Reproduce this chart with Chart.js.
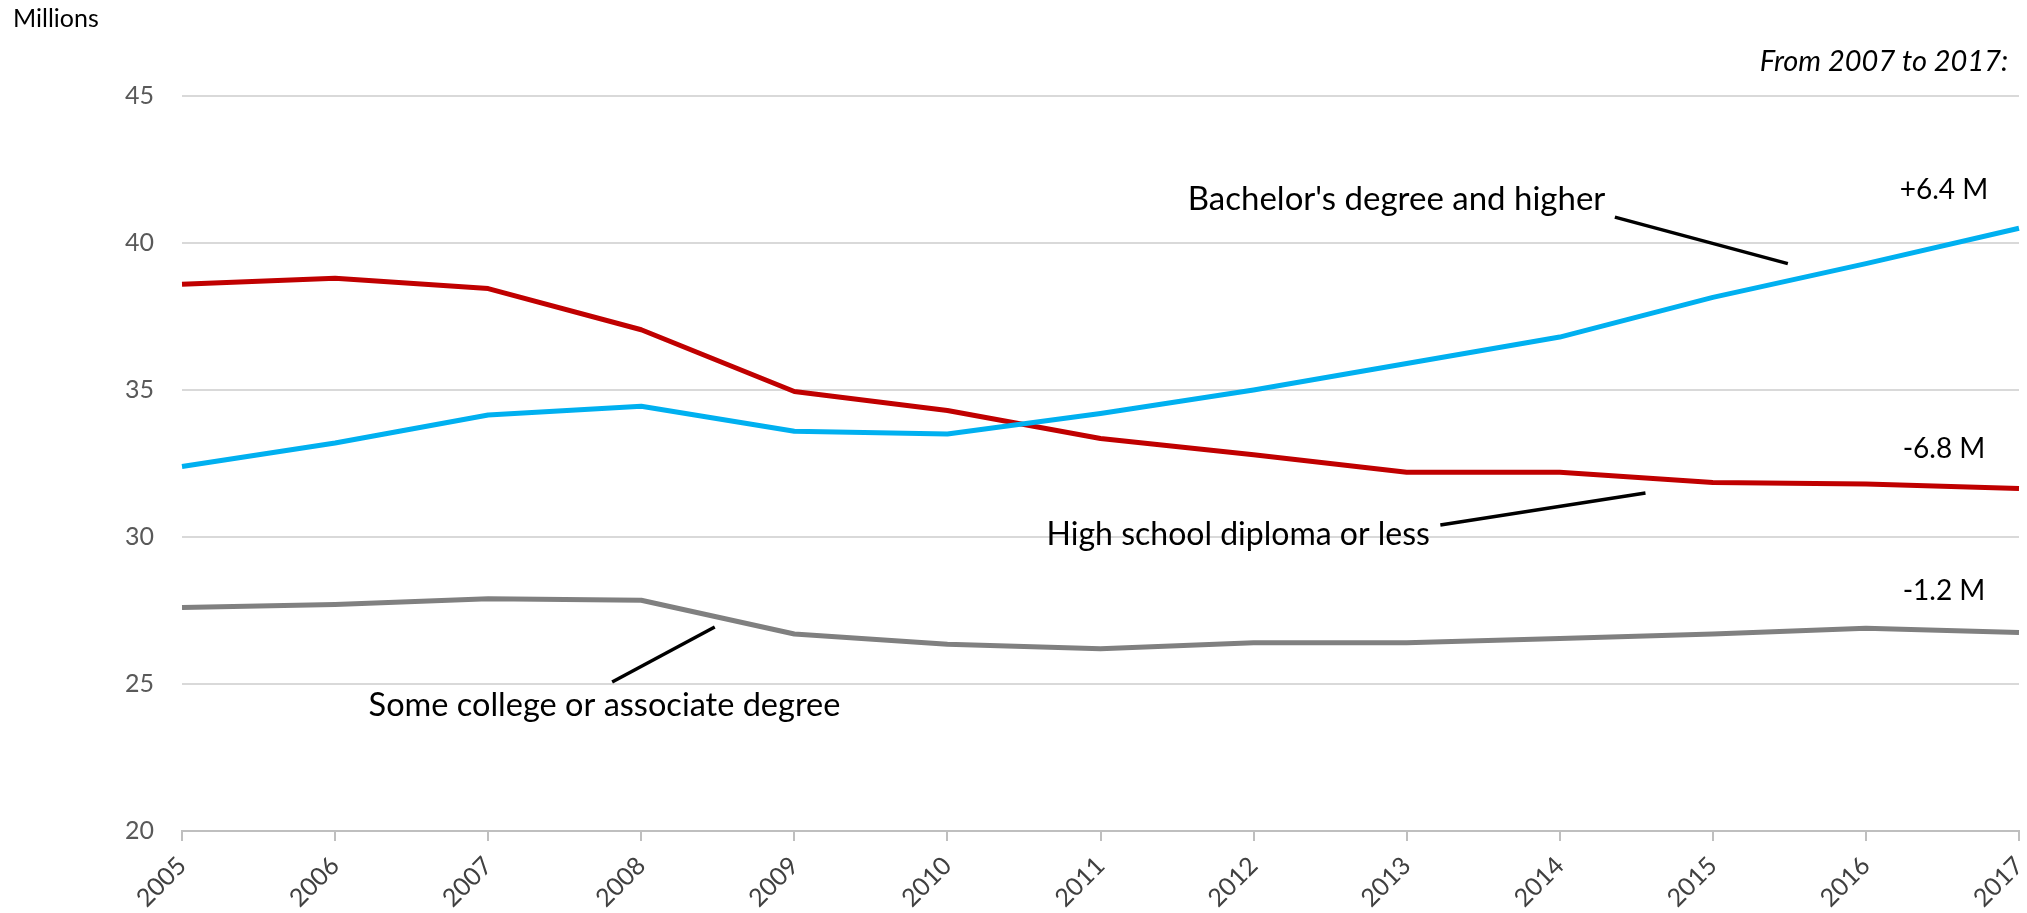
<!DOCTYPE html>
<html>
<head>
<meta charset="utf-8">
<script src="https://cdn.jsdelivr.net/npm/chart.js@4/dist/chart.umd.min.js"></script>
<style>
  body { margin: 0; background: #fff; }
  canvas { display: block; }
</style>
</head>
<body>
<canvas id="chart" width="2027" height="913"></canvas>
<script>
// Data (millions of workers)
const years = ['2005', '2006', '2007', '2008', '2009', '2010', '2011', '2012', '2013', '2014', '2015', '2016', '2017'];
const bachelors = [32.4, 33.2, 34.15, 34.45, 33.6, 33.5, 34.2, 35.0, 35.9, 36.8, 38.15, 39.3, 40.5];
const highSchool = [38.6, 38.8, 38.45, 37.05, 34.95, 34.3, 33.35, 32.8, 32.2, 32.2, 31.85, 31.8, 31.65];
const someCollege = [27.6, 27.7, 27.9, 27.85, 26.7, 26.35, 26.2, 26.4, 26.4, 26.55, 26.7, 26.9, 26.75];
const yTicks = [20, 25, 30, 35, 40, 45];

const FONT = 'Lato, "Open Sans", sans-serif';

// Labels and leader lines, placed in data units (x = year index, y = millions at the text baseline)
const notes = [
  { text: "Bachelor's degree and higher", x: 7.934, y: 41.12, size: 33 },
  { text: 'High school diploma or less', x: 6.90, y: 29.73, size: 32 },
  { text: 'Some college or associate degree', x: 2.76, y: 23.91, size: 32.5 },
  { text: '+6.4 M', x: 11.51, y: 41.5, size: 28 },
  { text: '-6.8 M', x: 11.51, y: 32.69, size: 28 },
  { text: '-1.2 M', x: 11.51, y: 27.86, size: 28 },
  { text: 'From 2007 to 2017:', x: 11.93, y: 45.85, size: 29, align: 'right', italic: true }
];
const leaders = [
  [9.36, 40.88, 10.49, 39.3],
  [8.22, 30.41, 9.56, 31.5],
  [2.81, 25.07, 3.48, 26.94]
];

const annotations = {
  id: 'annotations',
  afterDraw(chart) {
    const { ctx, scales: { x, y } } = chart;
    ctx.save();
    ctx.strokeStyle = '#000';
    ctx.lineWidth = 3.5;
    leaders.forEach(([x1, y1, x2, y2]) => {
      ctx.beginPath();
      ctx.moveTo(x.getPixelForValue(x1), y.getPixelForValue(y1));
      ctx.lineTo(x.getPixelForValue(x2), y.getPixelForValue(y2));
      ctx.stroke();
    });
    ctx.fillStyle = '#000';
    ctx.textBaseline = 'alphabetic';
    notes.forEach(n => {
      ctx.font = (n.italic ? 'italic ' : '') + n.size + 'px ' + FONT;
      ctx.textAlign = n.align || 'center';
      ctx.fillText(n.text, x.getPixelForValue(n.x), y.getPixelForValue(n.y));
    });
    ctx.font = '25px ' + FONT;
    ctx.textAlign = 'left';
    ctx.fillText('Millions', 13, 27);
    ctx.restore();
  }
};

new Chart(document.getElementById('chart'), {
  type: 'line',
  data: {
    labels: years,
    datasets: [
      { label: "Bachelor's degree and higher", data: bachelors, borderColor: '#00B0F0' },
      { label: 'High school diploma or less', data: highSchool, borderColor: '#C00000' },
      { label: 'Some college or associate degree', data: someCollege, borderColor: '#808080' }
    ]
  },
  options: {
    responsive: false,
    animation: false,
    layout: { padding: { top: 96, right: 8, left: 0, bottom: 0 } },
    elements: {
      line: { borderWidth: 5, tension: 0, borderCapStyle: 'butt', borderJoinStyle: 'round' },
      point: { radius: 0 }
    },
    plugins: {
      legend: { display: false },
      tooltip: { enabled: false }
    },
    scales: {
      x: {
        offset: false,
        grid: { drawOnChartArea: false, drawTicks: true, tickLength: 10, color: '#bfbfbf', lineWidth: 2 },
        border: { color: '#bfbfbf', width: 2 },
        ticks: {
          color: '#404040',
          font: { family: FONT, size: 25 },
          minRotation: 45,
          maxRotation: 45,
          autoSkip: false,
          padding: 10
        },
        afterFit: s => { s.paddingLeft = 0; s.paddingRight = 0; s.height = 82; }
      },
      y: {
        min: 20,
        max: 45,
        afterBuildTicks: s => { s.ticks = yTicks.map(v => ({ value: v })); },
        grid: { color: '#d9d9d9', lineWidth: 2, drawTicks: false },
        border: { display: false },
        ticks: {
          color: '#595959',
          font: { family: FONT, size: 25 },
          padding: 28
        },
        afterFit: s => { s.paddingTop = 0; s.paddingBottom = 0; s.width = 182; }
      }
    }
  },
  plugins: [annotations]
});
</script>
</body>
</html>
